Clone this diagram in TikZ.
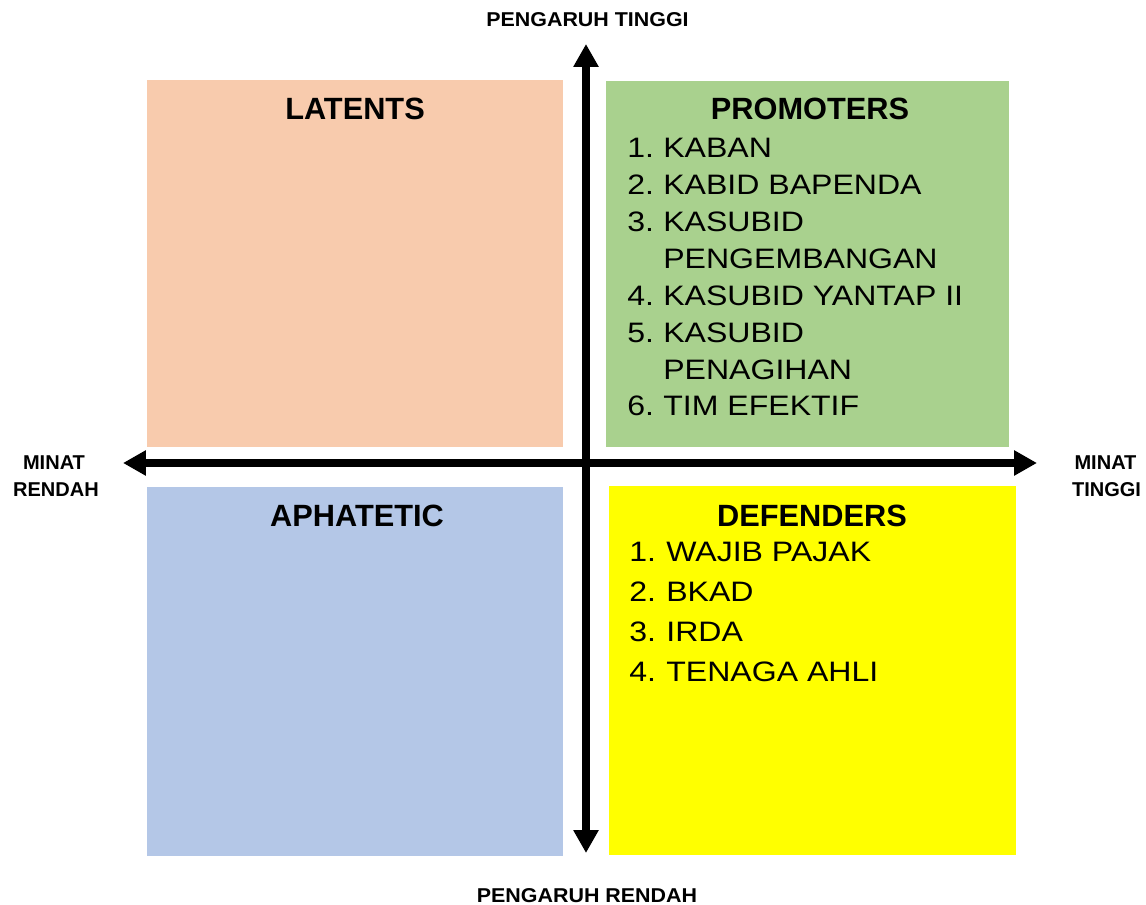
\documentclass[tikz,border=0pt]{standalone}
\usepackage{fontspec}
\setmainfont{Liberation Sans}
\newfontfamily\listfont[FakeStretch=1.14]{Liberation Sans}
\newfontfamily\widebold[FakeStretch=1.07]{Liberation Sans}
\usetikzlibrary{arrows.meta}

\definecolor{latentcol}{HTML}{F8CBAD}
\definecolor{promocol}{HTML}{A9D18E}
\definecolor{aphacol}{HTML}{B4C7E7}
\definecolor{defcol}{HTML}{FFFF00}

\tikzset{
  quadtitle/.style={font=\fontsize{17.5}{20}\selectfont\bfseries, anchor=base, inner sep=0pt},
  listitem/.style={font=\listfont\fontsize{16}{19}\selectfont, anchor=base west, inner sep=0pt},
  axislabel/.style={font=\fontsize{11.4}{13}\selectfont\bfseries, anchor=base, inner sep=0pt},
  infllabel/.style={axislabel, font=\widebold\fontsize{11.4}{13}\selectfont\bfseries},
  axisline/.style={line width=0.16cm, {Triangle[length=0.46cm,width=0.48cm]}-{Triangle[length=0.46cm,width=0.48cm]}}
}

\begin{document}
\begin{tikzpicture}[x=0.02cm,y=-0.02cm]
\useasboundingbox (0,0) rectangle (1146,905);

% quadrants
\fill[latentcol] (147,80) rectangle (563,447);
\fill[promocol]  (606,81) rectangle (1009,447);
\fill[aphacol]   (147,487) rectangle (563,856);
\fill[defcol]    (609,486) rectangle (1016,855);

% axes
\coordinate (ytop) at (586,44);
\coordinate (ybot) at (586,853);
\coordinate (xleft) at (123,463);
\coordinate (xright) at (1037,463);
\draw[axisline] (ybot) -- (ytop);
\draw[axisline] (xleft) -- (xright);

\node[infllabel] (hiInf) at (587.5,27) {PENGARUH TINGGI};
\node[infllabel] (loInf) at (587,902) {PENGARUH RENDAH};
\node[axislabel] (minatL) at (54,469.5) {MINAT};
\node[axislabel] (rendahL) at (56,496) {RENDAH};
\node[axislabel] (minatR) at (1105.5,469.5) {MINAT};
\node[axislabel] (tinggiR) at (1106.5,496) {TINGGI};

% titles
\node[quadtitle] (latents) at (355,119.5) {LATENTS};
\node[quadtitle] (promoters) at (810,119.5) {PROMOTERS};
\node[quadtitle] (aphatetic) at (357,526.5) {APHATETIC};
\node[quadtitle] (defenders) at (812,526) {DEFENDERS};

% promoters list
\foreach \yy/\nm/\tx [count=\k] in {157.7/1./KABAN, 194.6/2./KABID BAPENDA, 231.5/3./KASUBID,
  268.4/{}/PENGEMBANGAN, 305.3/4./KASUBID YANTAP II, 342.2/5./KASUBID,
  379.1/{}/PENAGIHAN, 416/6./TIM EFEKTIF} {
  \node[listitem] (pronum\k) at (627,\yy) {\nm};
  \node[listitem] (protxt\k) at (663,\yy) {\tx};
}

% defenders list
\foreach \yy/\nm/\tx [count=\k] in {561.5/1./WAJIB PAJAK, 601.4/2./BKAD, 641.3/3./IRDA, 681.2/4./TENAGA AHLI} {
  \node[listitem] (defnum\k) at (629,\yy) {\nm};
  \node[listitem] (deftxt\k) at (666,\yy) {\tx};
}
\end{tikzpicture}
\end{document}
